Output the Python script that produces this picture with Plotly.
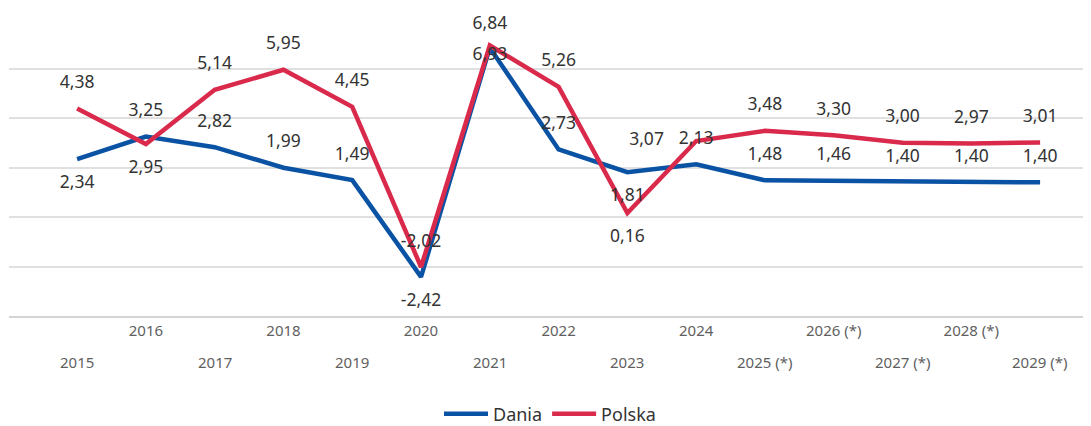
import plotly.graph_objects as go

years = ["2015", "2016", "2017", "2018", "2019", "2020", "2021", "2022",
         "2023", "2024", "2025 (*)", "2026 (*)", "2027 (*)", "2028 (*)", "2029 (*)"]
dania = [2.34, 3.25, 2.82, 1.99, 1.49, -2.42, 6.84, 2.73, 1.81, 2.13, 1.48, 1.46, 1.40, 1.40, 1.40]
polska = [4.38, 2.95, 5.14, 5.95, 4.45, -2.02, 6.93, 5.26, 0.16, 3.07, 3.48, 3.30, 3.00, 2.97, 3.01]

dania_pos = ["bottom center", "top center", "top center", "top center", "top center",
             "bottom center", "top center", "top center", "bottom center", "top center",
             "top center", "top center", "top center", "top center", "top center"]
polska_pos = ["top center", "bottom center", "top center", "top center", "top center",
              "top center", "bottom center", "top center", "bottom center", "middle left",
              "top center", "top center", "top center", "top center", "top center"]

BLUE = "#0A52A3"
RED = "#DA2A4C"
FONT = "Noto Sans"

x = list(range(len(years)))

def fmt(v):
    return f"{v:.2f}".replace(".", ",")

dania_msize = [24] * len(x)
dania_msize[6] = 22
polska_msize = [24] * len(x)
polska_msize[6] = 1
polska_msize[9] = 50

fig = go.Figure()
# lines (shown in legend)
fig.add_trace(go.Scatter(x=x, y=dania, name="Dania", mode="lines",
                         line=dict(color=BLUE, width=4.5), hoverinfo="skip"))
fig.add_trace(go.Scatter(x=x, y=polska, name="Polska", mode="lines",
                         line=dict(color=RED, width=4.5), hoverinfo="skip"))
# value labels (invisible markers set the label offset)
fig.add_trace(go.Scatter(
    x=x, y=dania, mode="markers+text", showlegend=False,
    marker=dict(size=dania_msize, color=BLUE, opacity=0, line=dict(width=0)),
    text=[fmt(v) for v in dania], textposition=dania_pos,
    textfont=dict(family=FONT, size=17.5, color="#333333"),
    cliponaxis=False, hoverinfo="skip",
))
fig.add_trace(go.Scatter(
    x=x, y=polska, mode="markers+text", showlegend=False,
    marker=dict(size=polska_msize, color=RED, opacity=0, line=dict(width=0)),
    text=[fmt(v) for v in polska], textposition=polska_pos,
    textfont=dict(family=FONT, size=17.5, color="#333333"),
    cliponaxis=False, hoverinfo="skip",
))

even_idx = [i for i in x if i % 2 == 1]
odd_idx = [i for i in x if i % 2 == 0]

annotations = [
    dict(x=i, y=0, xref="x", yref="paper", text=years[i], showarrow=False,
         yanchor="middle", yshift=-46, font=dict(family=FONT, size=15, color="#5f5f5f"))
    for i in odd_idx
]

# the page body has an 8px margin, so the figure is sized and offset to compensate
fig.update_layout(
    width=1083, height=418,
    margin=dict(l=1, r=0, t=11, b=110, autoexpand=False),
    paper_bgcolor="white", plot_bgcolor="white",
    font=dict(family=FONT, color="#333333"),
    showlegend=True,
    legend=dict(orientation="h", x=0.5, xanchor="center", y=-0.33, yanchor="middle",
                font=dict(family=FONT, size=18, color="#333333"), itemwidth=44),
    xaxis=dict(range=[-0.99, 14.74], tickvals=even_idx, ticktext=[years[i] for i in even_idx],
               tickfont=dict(family=FONT, size=15, color="#5f5f5f"), showgrid=False,
               zeroline=False, showline=True, linecolor="#d4d4d4", linewidth=2, ticks=""),
    yaxis=dict(range=[-4, 8], dtick=2, showticklabels=False, gridcolor="#e0e0e0",
               gridwidth=1.6, zeroline=False),
    annotations=annotations,
)

fig.write_html("out.html")
